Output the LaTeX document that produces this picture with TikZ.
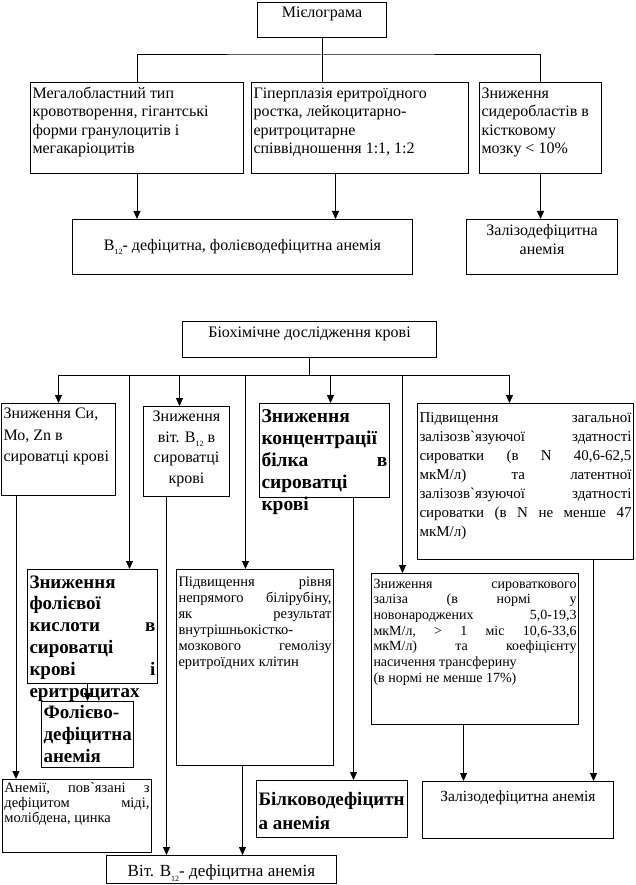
\documentclass[tikz,border=0pt]{standalone}
\usepackage{fontspec}
\setmainfont{Liberation Serif}
\usetikzlibrary{arrows.meta}
\hyphenpenalty=10000 \exhyphenpenalty=10000
\newcommand\bxt[5]{\parbox[c][#2pt][t]{\dimexpr#1pt-4pt\relax}{#3\rule{0pt}{#4pt}#5}}
\newcommand\fs[2]{\fontsize{#1pt}{#2pt}\selectfont}
\newcommand\sbs[1]{\raisebox{-0.3em}{\fontsize{8pt}{8pt}\selectfont #1}}
\newcommand\grv[1]{{\font\grvf="Liberation Serif" at #1pt\grvf`}}
\begin{document}
\begin{tikzpicture}[x=1pt,y=-1pt,
  bx/.style={draw,line width=1pt,anchor=north west,inner xsep=2pt,inner ysep=0pt},
  con/.style={line width=1pt},
  arr/.style={con,-{Triangle[length=8pt,width=7pt]}}]
\useasboundingbox (0,0) rectangle (636,885);
% top part
\node[bx] (mie) at (257,2) {\bxt{129}{35}{\fs{16}{20}\centering}{15.5}{Мієлограма}};
\node[bx] (meg) at (30,82) {\bxt{213}{91}{\fs{16}{18.3}}{16}{Мегалобластний тип\\кровотворення, гігантські\\форми гранулоцитів і\\мегакаріоцитів}};
\node[bx] (hyp) at (251,82) {\bxt{217}{91}{\fs{16}{18.3}}{16}{Гіперплазія еритроїдного\\ростка, лейкоцитарно-\\еритроцитарне\\співвідношення 1:1, 1:2}};
\node[bx] (sid) at (479,82) {\bxt{122}{91}{\fs{16}{18.3}}{16}{Зниження\\сидеробластів в\\кістковому\\мозку < 10\%}};
\node[bx] (b12a) at (72,219) {\bxt{340}{55}{\fs{16}{20}\centering}{30.5}{B\sbs{12}- дефіцитна, фолієводефіцитна анемія}};
\node[bx] (zal1) at (466,219) {\bxt{151}{55}{\fs{16}{18.5}\centering}{16.5}{Залізодефіцитна\\анемія}};
% bottom part
\node[bx] (bio) at (182,321) {\bxt{254}{36}{\fs{16}{20}\centering}{16}{Біохімічне дослідження крові}};
\node[bx] (cu) at (1,403) {\bxt{114}{92}{\fs{16}{21.5}}{15}{Зниження Си,\\Мо, Zn в\\сироватці крові}};
\node[bx] (vb) at (143,406) {\bxt{86}{90}{\fs{16}{20.5}\centering}{15}{Зниження\\віт. B\sbs{12} в\\сироватці\\крові}};
\node[bx] (prot) at (259,403) {\bxt{130}{94}{\fs{19.5}{22}\bfseries}{18.5}{Зниження\\концентрації\\білка\hfill в\\сироватці\\крові}};
\node[bx] (big) at (417,403) {\bxt{216}{156}{\fs{15}{19}}{19}{Підвищення\hfill загальної\\залізозв\grv{15}язуючої\hfill здатності\\сироватки\hfill (в\hfill N\hfill 40,6-62,5\\мкМ/л)\hfill та\hfill латентної\\залізозв\grv{15}язуючої\hfill здатності\\сироватки\hfill (в\hfill N\hfill не\hfill менше\hfill 47\\мкМ/л)}};
\node[bx] (fol) at (27,569) {\bxt{130}{114}{\fs{19}{21.8}\bfseries}{18.5}{Зниження\\фолієвої\\кислоти\hfill в\\сироватці\\крові\hfill і\\еритроцитах}};
\node[bx] (fold) at (41,701) {\bxt{92}{66}{\fs{19}{22}\bfseries}{16.5}{Фолієво-\\дефіцитна\\анемія}};
\node[bx] (bil) at (176,569) {\bxt{157}{196}{\fs{14.5}{16}}{16.5}{Підвищення\hfill рівня\\непрямого\hfill білірубіну,\\як\hfill результат\\внутрішньокістко-\\мозкового\hfill гемолізу\\еритроїдних клітин}};
\node[bx] (fe) at (371,573) {\bxt{207}{151}{\fs{14}{15.7}}{14.5}{Зниження\hfill сироваткового\\заліза\hfill (в\hfill нормі\hfill у\\новонароджених\hfill 5,0-19,3\\мкМ/л,\hfill >\hfill 1\hfill міс\hfill 10,6-33,6\\мкМ/л)\hfill та\hfill коефіцієнту\\насичення трансферину\\(в нормі не менше 17\%)}};
\node[bx] (anem) at (2,779) {\bxt{149}{73}{\fs{14.5}{15}}{12.5}{Анемії,\hfill пов\grv{14.5}язані\hfill з\\дефіцитом\hfill міді,\\молібдена, цинка}};
\node[bx] (bk) at (256,780) {\bxt{151}{57}{\fs{19}{24}\bfseries}{24.5}{Білководефіцитн\\а анемія}};
\node[bx] (zal2) at (422,781) {\bxt{191}{57}{\fs{15.5}{19}\centering}{20}{Залізодефіцитна анемія}};
\node[bx] (vit) at (106,855) {\bxt{230}{28}{\fs{17}{19}\centering}{21}{Віт. B\sbs{12}- дефіцитна анемія}};
% top connectors
\coordinate (hb) at (mie.south |- 0,55);
\draw[con] (mie.south) -- (hb);
\draw[con] (meg.north) |- (hb) -| (sid.north);
\draw[con] (hb) -- (hb |- hyp.north);
\path ([xshift=-24.5pt]hyp.south) coordinate (hypout);
\draw[arr] (meg.south) -- (meg.south |- b12a.north);
\draw[arr] (hypout) -- (hypout |- b12a.north);
\draw[arr] (sid.south) -- (sid.south |- zal1.north);
% bottom connectors
\coordinate (bus) at (bio.south |- 0,375);
\draw[con] (bio.south) -- (bus);
\path ([xshift=-7pt]vb.north) coordinate (vbin)
      ([xshift=6pt]prot.north) coordinate (protin)
      ([xshift=-16pt]big.north) coordinate (bigin)
      ([xshift=37pt]fol.north) coordinate (folin)
      ([xshift=-9.5pt]bil.north) coordinate (bilin)
      ([xshift=-72.5pt]fe.north) coordinate (fein);
\draw[con] (cu.north |- bus) -- (bigin |- bus);
\foreach \t in {cu.north, vbin, protin, bigin, folin, bilin, fein}
  \draw[arr] (\t |- bus) -- (\t);
\path ([xshift=15pt]cu.south west) coordinate (cuout)
      ([xshift=-20pt]vb.south) coordinate (vbout)
      ([xshift=29pt]prot.south) coordinate (protout)
      ([xshift=68pt]big.south) coordinate (bigout)
      ([xshift=-12.5pt]bil.south) coordinate (bilout)
      ([xshift=-11.5pt]fe.south) coordinate (feout);
\draw[arr] (cuout) -- (cuout |- anem.north);
\draw[arr] (vbout) -- (vbout |- vit.north);
\draw[arr] (protout) -- (protout |- bk.north);
\draw[arr] (bigout) -- (bigout |- zal2.north);
\draw[arr] (bilout) -- (bilout |- vit.north);
\draw[arr] (feout) -- (feout |- zal2.north);
\draw[arr] (fol.south -| fold.north) -- (fold.north);
\end{tikzpicture}
\end{document}
